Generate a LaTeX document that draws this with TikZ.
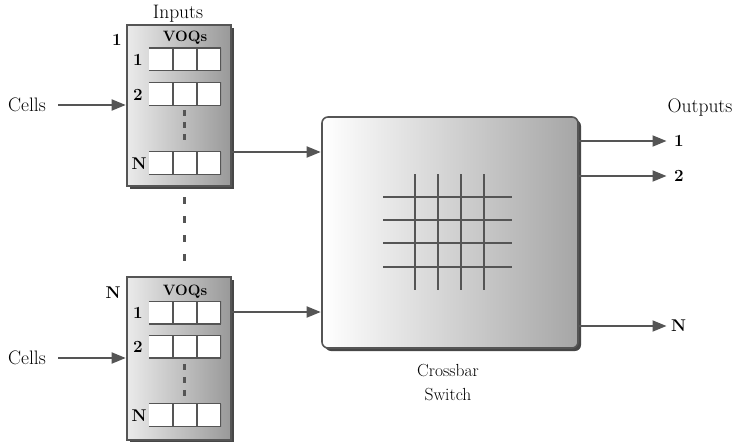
\documentclass[tikz,border=0pt]{standalone}
\usetikzlibrary{arrows.meta,shadows,calc}
\definecolor{ln}{HTML}{555555}
\begin{document}
\begin{tikzpicture}[x=1pt,y=-1pt,
  arr/.style={draw=ln, line width=1.8pt, -{Triangle[length=14pt,width=11pt]}, shorten >=0.5pt},
  inbox/.style={draw=ln, line width=1.6pt, left color=black!8, right color=black!40,
    minimum width=104pt, inner sep=0pt,
    drop shadow={shadow xshift=3pt, shadow yshift=-3pt, fill=black!80, opacity=0.9}},
  xbar/.style={draw=ln, line width=1.6pt, rounded corners=6pt, left color=white, right color=black!35,
    minimum width=256pt, minimum height=231pt, inner sep=0pt,
    drop shadow={shadow xshift=3pt, shadow yshift=-3pt, fill=black!80, opacity=0.9}},
  queue/.style={fill=white, minimum width=72pt, minimum height=23pt, inner sep=0pt,
    path picture={
      \draw[ln, line width=1.6pt]
        (path picture bounding box.north west) -- (path picture bounding box.north east)
        (path picture bounding box.south west) -- (path picture bounding box.south east)
        ($(path picture bounding box.north west)!1/3!(path picture bounding box.north east)$) -- ($(path picture bounding box.south west)!1/3!(path picture bounding box.south east)$)
        ($(path picture bounding box.north west)!2/3!(path picture bounding box.north east)$) -- ($(path picture bounding box.south west)!2/3!(path picture bounding box.south east)$)
        (path picture bounding box.north east) -- (path picture bounding box.south east);
    }},
  txt/.style={font=\fontsize{19.5}{22}\selectfont, inner sep=0pt},
  num/.style={font=\fontsize{17}{19}\selectfont\bfseries, inner sep=0pt},
  voq/.style={font=\fontsize{15}{17}\selectfont\bfseries, inner sep=0pt},
  grid/.style={draw=ln, line width=1.6pt},
  dotmark/.style={fill=ln}
]
\useasboundingbox (0,0) rectangle (735,441);

% input boxes
\node[inbox, minimum height=161pt] (box1) at (179,105.5) {};
\node[inbox, minimum height=163pt] (boxN) at (179,358.5) {};

% crossbar
\node[xbar] (xb) at (450,232.5) {};

% labels on input boxes
\node[txt] (inputs) at (178,14) {Inputs};
\node[num] (lab1) at (117,40) {1};
\node[num] (labN) at (113,293) {N};
\node[voq] (voq1) at (185,38) {VOQs};
\node[voq] (voqN) at (185,292) {VOQs};

% queues box 1
\node[queue] (q11) at (185,59.5) {};
\node[queue] (q12) at (185,94) {};
\node[queue] (q1N) at (185,163) {};
\node[num] (r11) at (138,60) {1};
\node[num] (r12) at (138,95) {2};
\node[num] (r1N) at (139,164) {N};

% queues box N
\node[queue] (qN1) at (185,312.5) {};
\node[queue] (qN2) at (185,346.5) {};
\node[queue] (qNN) at (185,415) {};
\node[num] (rN1) at (138,313) {1};
\node[num] (rN2) at (138,347) {2};
\node[num] (rNN) at (139,416) {N};

% dots inside boxes
\foreach \y in {113,125,137} \fill[dotmark] (182.5,\y-3) rectangle (185.5,\y+3);
\foreach \y in {367,380,393} \fill[dotmark] (182.5,\y-3) rectangle (185.5,\y+3);
% dots between boxes
\foreach \y in {200,219,238,257} \fill[dotmark] (182.5,\y-3.5) rectangle (185.5,\y+3.5);

% cells inputs
\node[txt] (cells1) at (27,105) {Cells};
\node[txt] (cellsN) at (27,358) {Cells};
\draw[arr] (58,105) coordinate (c1s) -- (box1.west |- c1s);
\draw[arr] (58,358) coordinate (cNs) -- (boxN.west |- cNs);

% box to crossbar
\coordinate (o1) at (box1.east |- 0,152);
\coordinate (oN) at (boxN.east |- 0,312);
\draw[arr] (o1) -- (xb.west |- o1);
\draw[arr] (oN) -- (xb.west |- oN);

% crossbar grid
\foreach \y in {197,220,243,267} \draw[grid] (383,\y) -- (512,\y);
\foreach \x in {415,438,461,484} \draw[grid] (\x,174) -- (\x,290);

% outputs
\node[txt] (outputs) at (700,108) {Outputs};
\node[num, anchor=west] (out1) at (674,141) {1};
\node[num, anchor=west] (out2) at (674,176) {2};
\node[num, anchor=west] (outN) at (671,326) {N};
\draw[arr] (xb.east |- out1) -- (out1.west -| 667,0);
\draw[arr] (xb.east |- out2) -- (out2.west -| 667,0);
\draw[arr] (xb.east |- outN) -- (outN.west -| 667,0);

\node[font=\fontsize{17.5}{24}\selectfont, align=center, inner sep=0pt] (xblabel) at (448,383) {Crossbar\\Switch};
\end{tikzpicture}
\end{document}
